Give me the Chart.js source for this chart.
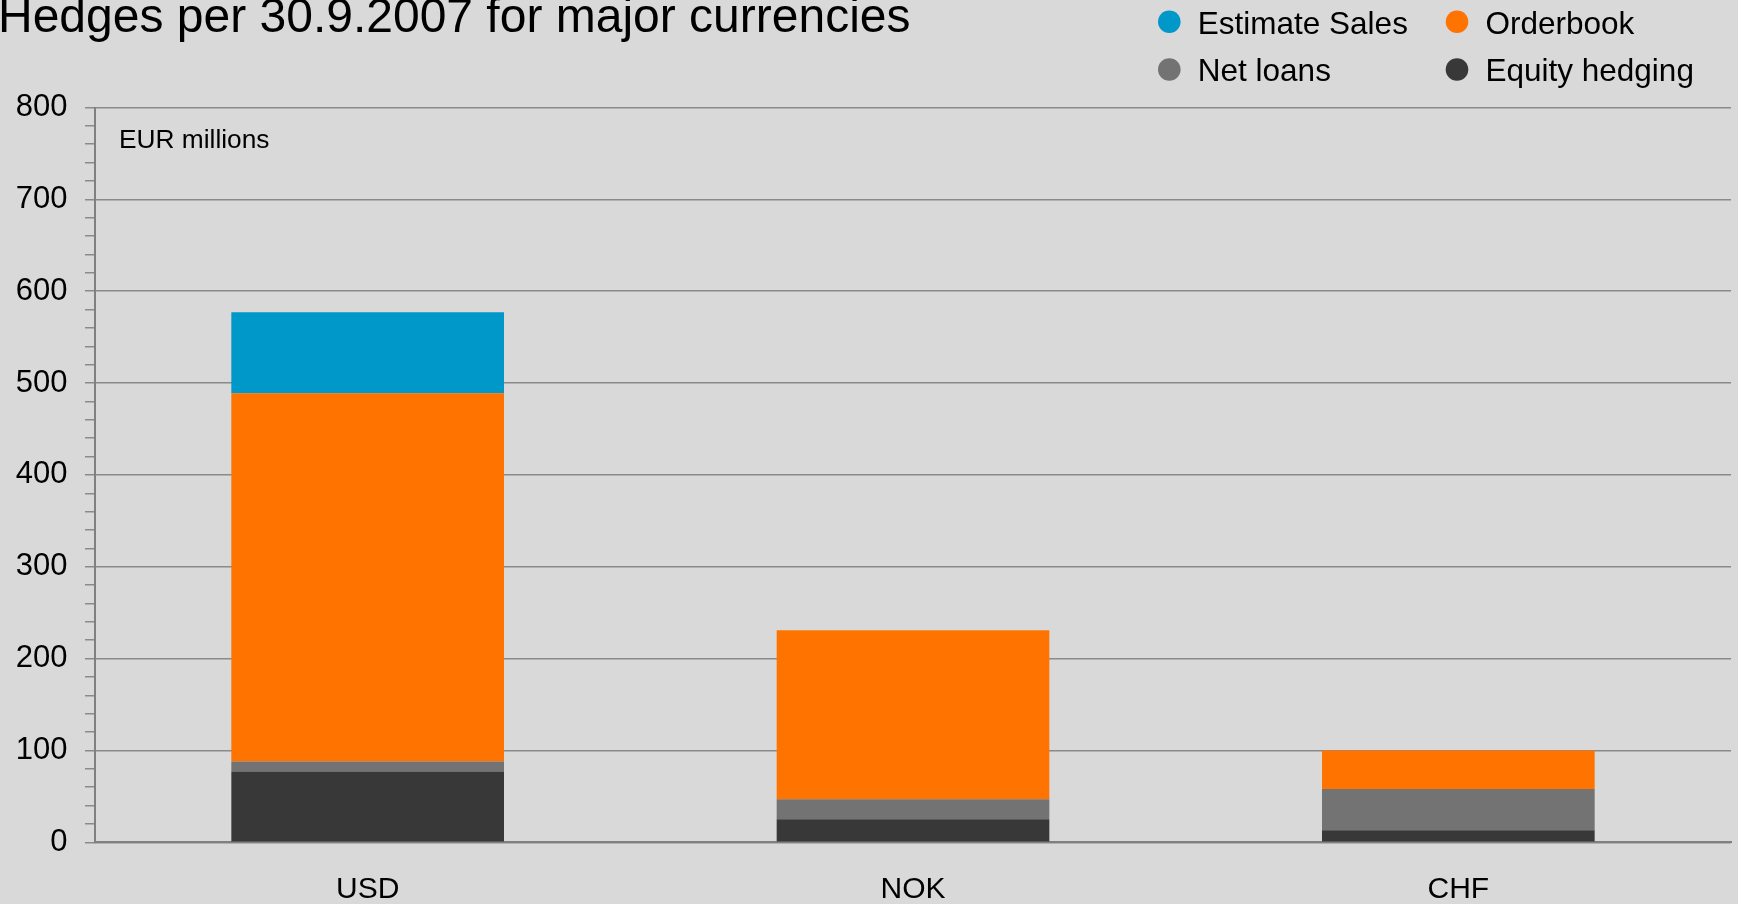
<!DOCTYPE html>
<html>
<head>
<meta charset="utf-8">
<title>Hedges per 30.9.2007 for major currencies</title>
<script src="https://cdn.jsdelivr.net/npm/chart.js@4"></script>
<style>
    html, body { margin: 0; padding: 0; background: #d9d9d9; }
    #wrap { position: relative; width: 1738px; height: 904px; }
</style>
</head>
<body>
<div id="wrap"><canvas id="mainChart"></canvas></div>
<script>
// Values (EUR millions)
const categories = ['USD', 'NOK', 'CHF'];
const equityHedging = [77, 25, 13];
const netLoans = [11, 22, 45];
const orderbook = [401, 184, 42];
const estimateSales = [88, 0, 0];

const yTicks = [0, 100, 200, 300, 400, 500, 600, 700, 800];

const FONT = "'Liberation Sans', Arial, sans-serif";

// legend is laid out in a 2x2 grid, like the original
const legendOrder = [
    ['Estimate Sales', 'Orderbook'],
    ['Net loans', 'Equity hedging']
];

const textPlugin = {
    id: 'textPlugin',
    afterDraw(chart) {
        const ctx = chart.ctx;
        ctx.save();
        ctx.fillStyle = '#000';
        ctx.textAlign = 'left';
        ctx.textBaseline = 'alphabetic';

        // title, cut at the top edge as in the source
        ctx.font = `48px ${FONT}`;
        ctx.fillText('Hedges per 30.9.2007 for major currencies', -2, 32.3);

        // unit label inside the plot
        ctx.font = `26.3px ${FONT}`;
        ctx.fillText('EUR millions', 119, 148.3);

        // legend
        const colX = [1169.3, 1457];
        const rowY = [21.7, 69.5];
        ctx.font = `31.5px ${FONT}`;
        legendOrder.forEach((row, r) => {
            row.forEach((label, c) => {
                const ds = chart.data.datasets.find(d => d.label === label);
                ctx.fillStyle = ds.backgroundColor;
                ctx.beginPath();
                ctx.arc(colX[c], rowY[r], 11.3, 0, Math.PI * 2);
                ctx.fill();
                ctx.fillStyle = '#000';
                ctx.fillText(label, colX[c] + 28.5, rowY[r] + 11.8);
            });
        });
        ctx.restore();
    }
};

const ctx = document.getElementById('mainChart').getContext('2d');

new Chart(ctx, {
    type: 'bar',
    data: {
        labels: categories,
        datasets: [
            { label: 'Equity hedging', data: equityHedging, backgroundColor: '#383838' },
            { label: 'Net loans', data: netLoans, backgroundColor: '#737373' },
            { label: 'Orderbook', data: orderbook, backgroundColor: '#ff7300' },
            { label: 'Estimate Sales', data: estimateSales, backgroundColor: '#0097c9' }
        ]
    },
    options: {
        responsive: true,
        maintainAspectRatio: false,
        animation: false,
        layout: {
            padding: { top: 107.5, right: 7, bottom: 0, left: 0 }
        },
        datasets: {
            bar: {
                barPercentage: 0.5,
                categoryPercentage: 1.0,
                borderWidth: 0
            }
        },
        scales: {
            x: {
                stacked: true,
                afterFit: scale => { scale.height = 61.7; },
                grid: {
                    display: true,
                    drawOnChartArea: false,
                    drawTicks: false
                },
                border: {
                    display: true,
                    color: '#808080',
                    width: 2
                },
                ticks: {
                    color: '#000',
                    padding: 29.5,
                    font: { family: FONT, size: 30 }
                }
            },
            y: {
                stacked: true,
                min: 0,
                max: 800,
                afterFit: scale => { scale.width = 95; },
                grid: {
                    color: c => (yTicks.includes(c.tick.value) ? '#8a8a8a' : 'rgba(0,0,0,0)'),
                    tickColor: '#8a8a8a',
                    lineWidth: 1.5,
                    tickLength: 10
                },
                border: {
                    display: true,
                    color: '#808080',
                    width: 2
                },
                ticks: {
                    stepSize: 20,
                    autoSkip: false,
                    padding: 17.5,
                    color: '#000',
                    font: { family: FONT, size: 31 },
                    callback: value => (yTicks.includes(value) ? value : '')
                }
            }
        },
        plugins: {
            legend: { display: false },
            title: { display: false },
            tooltip: { enabled: false }
        }
    },
    plugins: [textPlugin]
});
</script>
</body>
</html>
